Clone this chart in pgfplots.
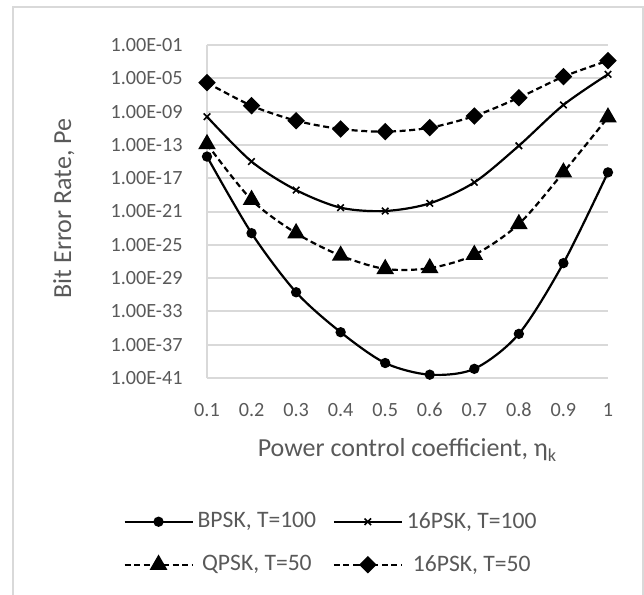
\documentclass[border=0pt]{standalone}
\usepackage{fontspec}
\setmainfont{Carlito}
\usepackage{pgfplots}
\pgfplotsset{compat=1.18}
\definecolor{txt}{HTML}{595959}
\definecolor{gridc}{HTML}{D9D9D9}
\begin{document}
\fontsize{10pt}{12pt}\selectfont
\begin{tikzpicture}
\useasboundingbox (0,0) rectangle (322pt,297.5pt);
\draw[gridc, line width=1pt] (6.5pt,-2pt) -- (6.5pt,294pt) -- (321.5pt,294pt) -- (321.5pt,-2pt);
\begin{axis}[
  at={(103.5pt,108.5pt)}, anchor=south west,
  width=200.5pt, height=166.5pt, scale only axis,
  ymode=log, log basis y=10,
  ymin=1e-41, ymax=1e-1,
  xmin=0.1, xmax=1,
  ytick={1e-41,1e-37,1e-33,1e-29,1e-25,1e-21,1e-17,1e-13,1e-9,1e-5,1e-1},
  yticklabels={1.00E-41,1.00E-37,1.00E-33,1.00E-29,1.00E-25,1.00E-21,1.00E-17,1.00E-13,1.00E-09,1.00E-05,1.00E-01},
  xtick={0.1,0.2,0.3,0.4,0.5,0.6,0.7,0.8,0.9,1},
  xticklabels={0.1,0.2,0.3,0.4,0.5,0.6,0.7,0.8,0.9,1},
  axis lines*=left,
  axis line style={gridc, line width=1pt, -},
  ymajorgrids, yminorgrids=false,
  grid style={gridc, line width=1pt},
  major tick length=0pt, minor tick num=0,
  tick label style={text=txt, font=\fontsize{10.1pt}{12pt}\selectfont},
  yticklabel style={anchor=east, inner sep=0pt, xshift=-12pt},
  xticklabel style={anchor=center, inner sep=0pt, yshift=-16pt},
  xlabel={Power control coefficient, η\textsubscript{k}},
  ylabel={Bit Error Rate, Pe},
  label style={text=txt, font=\fontsize{13pt}{15.6pt}\selectfont},
  xlabel style={at={(axis description cs:0.5,-0.216)}, anchor=center},
  ylabel style={at={(axis description cs:-0.357,0.509)}, anchor=center},
  legend columns=2,
  legend style={at={(axis description cs:0.3117,-0.39)}, anchor=north, draw=none, fill=none,
    inner sep=0pt, row sep=8pt, font=\fontsize{11.8pt}{14pt}\selectfont, text=txt,
    /tikz/every even column/.append style={column sep=6.3pt}},
  legend image code/.code={\draw[mark repeat=2,mark phase=2,#1] plot coordinates {(0pt,0pt) (17pt,0pt) (34pt,0pt)};},
  clip=false,
]
\addplot[black, line width=1.1pt, smooth, mark=*, mark size=2pt, mark options={solid}] coordinates {
(0.1,3.98e-15) (0.2,2.51e-24) (0.3,2.00e-31) (0.4,3.16e-36) (0.5,6.31e-40)
(0.6,2.51e-41) (0.7,1.26e-40) (0.8,2.00e-36) (0.9,6.31e-28) (1.0,5.01e-17)};
\addlegendentry{BPSK, T=100}
\addplot[black, line width=1.1pt, smooth, mark=x, mark size=2.3pt, mark options={solid, line width=0.8pt}] coordinates {
(0.1,2.45e-10) (0.2,1.00e-15) (0.3,3.80e-19) (0.4,2.88e-21) (0.5,1.15e-21)
(0.6,9.55e-21) (0.7,3.16e-18) (0.8,7.94e-14) (0.9,6.31e-9) (1.0,3.02e-5)};
\addlegendentry{16PSK, T=100}
\addplot[black, line width=1.1pt, smooth, dash pattern=on 3pt off 1.8pt, mark=triangle*, mark size=4pt, mark options={solid}] coordinates {
(0.1,1.26e-13) (0.2,2.51e-20) (0.3,2.51e-24) (0.4,5.01e-27) (0.5,1.26e-28)
(0.6,1.58e-28) (0.7,6.31e-27) (0.8,3.16e-23) (0.9,5.01e-17) (1.0,2.04e-10)};
\addlegendentry{QPSK, T=50}
\addplot[black, line width=1.1pt, smooth, dash pattern=on 3pt off 1.8pt, mark=diamond*, mark size=3.6pt, mark options={solid, xscale=1.33}] coordinates {
(0.1,2.95e-6) (0.2,5.13e-9) (0.3,8.13e-11) (0.4,8.13e-12) (0.5,3.89e-12)
(0.6,1.17e-11) (0.7,2.95e-10) (0.8,4.68e-8) (0.9,1.58e-5) (1.0,1.32e-3)};
\addlegendentry{16PSK, T=50}
\end{axis}
\end{tikzpicture}
\end{document}
